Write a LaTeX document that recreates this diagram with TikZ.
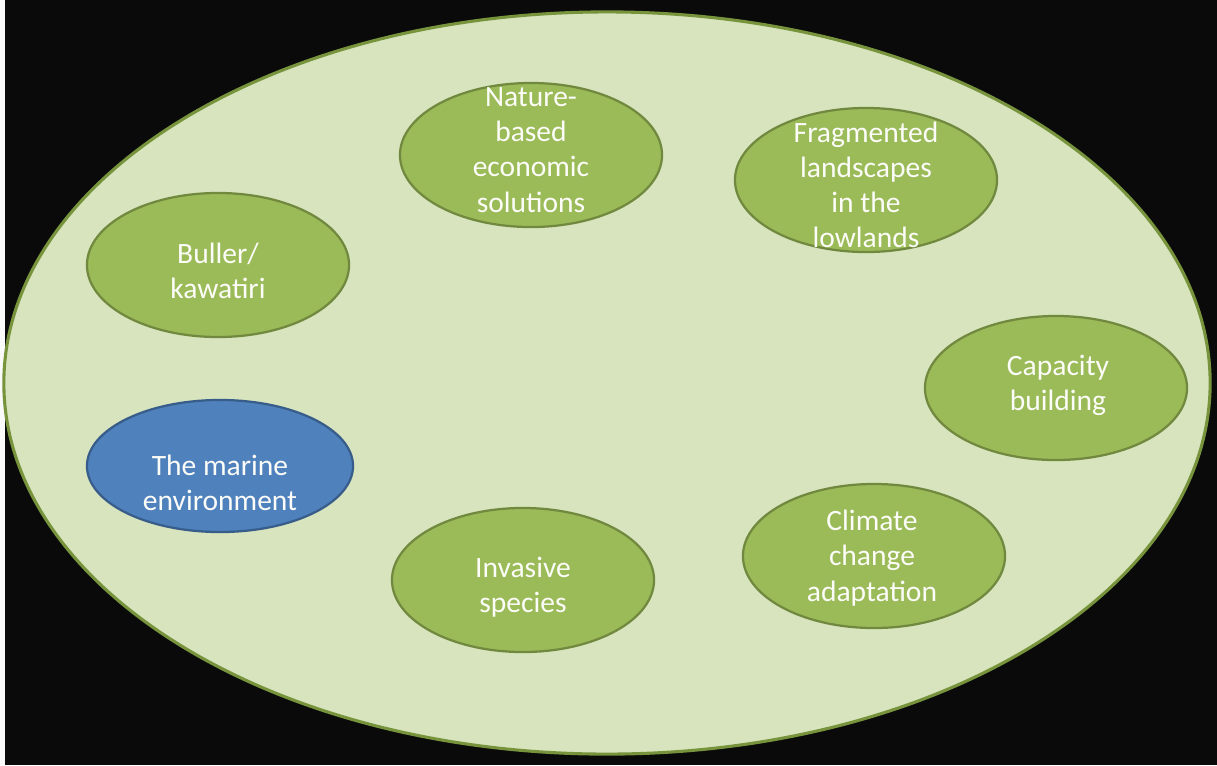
\documentclass[tikz,border=0pt]{standalone}
\usepackage{fontspec}
\setmainfont{Carlito}
\usetikzlibrary{shapes.geometric}

\definecolor{backdrop}{RGB}{10,10,10}
\definecolor{edgestrip}{RGB}{250,250,250}
\definecolor{fieldfill}{HTML}{D7E4BD}
\definecolor{fielddraw}{HTML}{77933C}
\definecolor{topicfill}{HTML}{9BBB59}
\definecolor{topicdraw}{HTML}{71893F}
\definecolor{marinefill}{HTML}{4F81BD}
\definecolor{marinedraw}{HTML}{385D8A}
\definecolor{labeltext}{RGB}{252,252,248}

\tikzset{
  field/.style={ellipse, fill=fieldfill, draw=fielddraw, line width=2.2pt,
    minimum width=30.15cm, minimum height=18.55cm, inner sep=0pt},
  topic/.style={ellipse, fill=topicfill, draw=topicdraw, line width=1.6pt,
    minimum width=6.55cm, minimum height=3.6cm, inner sep=0pt},
  marine/.style={topic, fill=marinefill, draw=marinedraw, minimum width=6.65cm, minimum height=3.3cm},
  topictext/.style={inner sep=0pt, align=center, text=labeltext,
    font=\fontsize{21}{25}\selectfont}
}

\begin{document}
\begin{tikzpicture}[x=0.025cm, y=-0.025cm]
    \useasboundingbox (0,0) rectangle (1217,765);
    \fill[backdrop] (0,0) rectangle (1217,765);
    \fill[edgestrip] (0,0) rectangle (5,765);

    \node[field] (area) at (607,383) {};

    \node[topic] (buller) at (218,265) {};
    \node[topictext] (buller-t) at (218,271) {Buller/\\kawatiri};
    \node[topic] (nature) at (531,155) {};
    \node[topictext] (nature-t) at (531,150) {Nature-\\based\\economic\\solutions};
    \node[topic] (fragmented) at (866,180) {};
    \node[topictext] (fragmented-t) at (866,185) {Fragmented\\landscapes\\in the\\lowlands};
    \node[topic] (capacity) at (1056,388) {};
    \node[topictext] (capacity-t) at (1058,385) {Capacity\\building};
    \node[marine] (marine) at (220,466) {};
    \node[topictext] (marine-t) at (220,483) {The marine\\environment};
    \node[topic] (invasive) at (523,580) {};
    \node[topictext] (invasive-t) at (523,587) {Invasive\\species};
    \node[topic] (climate) at (874,556) {};
    \node[topictext] (climate-t) at (872,558) {Climate\\change\\adaptation};
\end{tikzpicture}
\end{document}
